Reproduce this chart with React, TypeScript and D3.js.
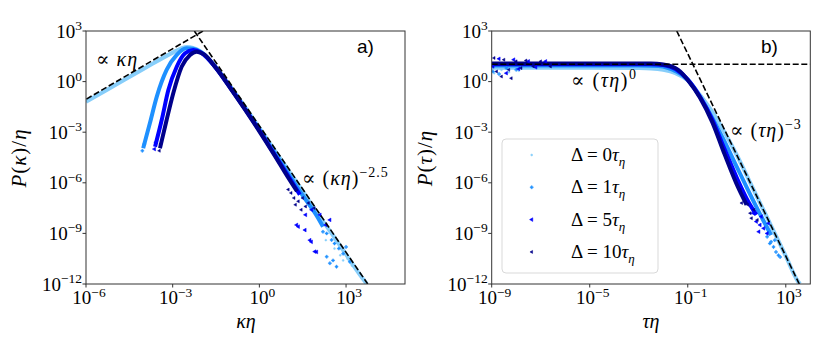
import React from "react";
import * as d3 from "d3";

// colours of the four time lags
const lagNames = ["0", "1", "5", "10"];
const lagColors = ["#87cefa", "#1e90ff", "#0000ff", "#00008b"];

// panel a) curvature pdf, [log10(kappa*eta), log10(P/eta)]
const kappaD0 = [[-6, -1.2], [-5, -0.22], [-4, 0.76], [-3, 1.72], [-2.7, 1.97], [-2.5, 2.05], [-2.3, 2.0], [-2, 1.75], [-1.5, 0.85], [-1, -0.3], [-0.5, -1.5], [0, -2.75], [0.5, -4.0], [1, -5.25], [1.5, -6.5], [2, -7.8], [2.5, -9.0], [3, -10.25], [3.5, -11.5], [3.72, -12]];
const kappaD1 = [[-4.02, -3.95], [-3.79, -2.47], [-3.55, -0.89], [-3.21, 0.69], [-2.86, 1.58], [-2.52, 1.97], [-2.3, 1.95], [-2, 1.72], [-1.5, 0.82], [-1, -0.35], [-0.5, -1.58], [0, -2.85], [0.5, -4.15], [1, -5.45], [1.5, -6.75], [2, -8.0], [2.2, -8.6]];
const kappaD5 = [[-3.61, -3.86], [-3.38, -2.28], [-3.15, -0.5], [-2.86, 0.88], [-2.57, 1.68], [-2.29, 1.87], [-2, 1.7], [-1.5, 0.8], [-1, -0.38], [-0.5, -1.62], [0, -2.9], [0.5, -4.25], [1, -5.6], [1.4, -6.7]];
const kappaD10 = [[-3.44, -3.95], [-3.21, -2.28], [-2.98, -0.69], [-2.69, 0.88], [-2.4, 1.58], [-2.17, 1.77], [-1.9, 1.6], [-1.5, 0.8], [-1, -0.4], [-0.5, -1.65], [0, -2.95], [0.5, -4.3], [1, -5.7], [1.3, -6.5]];

const kappaScatterD0 = [[2.3, -9.4], [2.6, -9.9], [2.8, -10.3], [3.05, -10.5], [3.2, -10.9], [3.35, -11.1], [3.5, -11.4], [3.6, -11.7], [3.45, -11.3], [2.9, -10.6]];
const kappaScatterD1 = [[-4.05, -4.1], [-3.98, -3.7], [2.33, -10.38], [2.44, -10.77], [2.67, -10.97], [3.13, -10.68], [2.5, -9.39], [2.33, -9.0], [2.6, -9.6], [2.75, -9.9], [2.9, -10.2], [2.55, -10.6], [3.0, -9.8], [2.2, -8.9]];
const kappaScatterD5 = [[-3.63, -4.0], [-3.58, -3.6], [1.29, -8.5], [1.35, -8.6], [1.58, -8.8], [1.75, -9.4], [1.8, -9.5], [1.92, -10.08], [1.98, -10.1], [2.44, -8.2], [1.81, -7.6], [2.1, -7.9], [1.6, -7.9], [2.3, -8.5]];
const kappaScatterD10 = [[-3.46, -4.1], [-3.42, -3.7], [1.1, -6.6], [1.2, -6.9], [1.35, -7.1], [1.5, -6.9], [1.6, -7.4], [1.45, -7.6], [1.7, -7.2], [1.25, -7.3], [1.9, -7.5], [1.0, -6.4]];

const kappaGuideLow = [[-6.5, -1.55], [-1.95, 3]];
const kappaGuideHigh = [[-2.25, 3], [3.75, -12]];
const kappaTicksX = [-6, -3, 0, 3];

// panel b) time pdf, [log10(tau*eta), log10(P/eta)]
const tauD0 = [[-9, 0.82], [-7, 0.82], [-5, 0.82], [-3, 0.8], [-2.5, 0.78], [-2, 0.7], [-1.5, 0.5], [-1, 0.08], [-0.5, -0.8], [0, -1.8], [0.5, -3.0], [1, -4.35], [1.5, -5.85], [2, -7.35], [2.5, -8.85], [3, -10.35], [3.5, -11.85], [3.58, -12]];
const tauD1 = [[-9, 0.95], [-5, 0.95], [-3, 0.95], [-2.2, 0.92], [-1.8, 0.8], [-1.5, 0.62], [-1, 0.12], [-0.5, -0.9], [0, -2.15], [0.5, -3.55], [1, -5.05], [1.5, -6.55], [2, -8.0], [2.4, -9.1]];
const tauD5 = [[-9, 1.03], [-5, 1.03], [-2.5, 1.03], [-2, 0.98], [-1.5, 0.75], [-1, 0.12], [-0.5, -0.9], [0, -2.25], [0.5, -4.0], [1, -5.7], [1.5, -7.2], [1.8, -7.9]];
const tauD10 = [[-9, 1.07], [-5, 1.07], [-2.5, 1.07], [-2, 1.02], [-1.5, 0.8], [-1.3, 0.59], [-1, 0.1], [-0.5, -0.95], [0, -2.4], [0.5, -4.3], [1, -6.1], [1.4, -7.3]];

const tauScatterD0 = [[-8.9, 0.5], [-8.6, 0.7], [-8.3, 0.55], [-7.9, 0.65], [3.0, -10.4], [3.2, -11.0], [3.4, -11.6]];
const tauScatterD1 = [[-8.95, 0.6], [-8.7, 0.45], [-8.4, 0.8], [-8.0, 0.7], [2.24, -9.2], [2.4, -9.5], [2.5, -9.8], [2.6, -10.1], [2.7, -10.3], [2.77, -10.4], [2.55, -9.4], [2.35, -9.6]];
const tauScatterD5 = [[-8.95, 0.9], [-8.7, 1.35], [-8.4, 0.5], [-8.1, 1.3], [-7.9, 0.75], [-7.5, 1.2], [-7.2, 0.85], [-6.8, 1.2], [1.67, -7.8], [1.8, -8.3], [1.95, -8.5], [2.1, -8.7], [2.24, -9.0], [2.0, -8.0], [1.9, -8.9], [2.3, -8.4]];
const tauScatterD10 = [[-8.9, 1.4], [-8.8, 0.6], [-8.6, 0.3], [-8.5, 1.3], [-8.3, 0.7], [-8.2, 0.2], [-8.0, 1.2], [-7.8, 0.8], [-7.6, 1.25], [-7.3, 0.9], [-7.0, 1.2], [-6.6, 0.9], [1.14, -6.4], [1.3, -7.0], [1.45, -7.3], [1.55, -7.8], [1.7, -7.6], [1.84, -8.2], [1.6, -8.1], [1.2, -7.2]];

const tauGuideFlat = [[-9, 1.03], [4, 1.03]];
const tauGuideSteep = [[-1.45, 3], [3.6, -12.15]];
const tauTicksX = [-9, -5, -1, 3];

const yTicks = [3, 0, -3, -6, -9, -12];

const serif = "'Liberation Serif', 'DejaVu Serif', serif";
const top = 31, bottom = 284;

const Pow = ({ x, y, e, anchor }: any) => (
  <text x={x} y={y} textAnchor={anchor} fontFamily={serif} fontSize={19} fill="#000">
    10<tspan dy={-7.5} fontSize={13.5}>{e < 0 ? "\u2212" + -e : e}</tspan>
  </text>
);

const markerPath = (i: number) => {
  if (i === 0) return d3.symbol(d3.symbolCircle, 3)();
  if (i === 1) return d3.symbol(d3.symbolCross, 5)();
  return d3.symbol(d3.symbolTriangle, i === 2 ? 6 : 4)();
};

const Panel = ({ id, left, right, xDomain, xTicks, lines, scatters, guides }: any) => {
  const xs = d3.scaleLog().domain(xDomain).range([left, right]);
  const ys = d3.scaleLog().domain([1e-12, 1e3]).range([bottom, top]);
  const line = d3.line<number[]>()
    .x(d => xs(10 ** d[0]))
    .y(d => ys(10 ** d[1]))
    .curve(d3.curveMonotoneX);
  const guide = d3.line<number[]>().x(d => xs(10 ** d[0])).y(d => ys(10 ** d[1]));
  return (
    <g>
      <defs>
        <clipPath id={"clip" + id}>
          <rect x={left} y={top} width={right - left} height={bottom - top} />
        </clipPath>
      </defs>
      <g clipPath={`url(#clip${id})`}>
        {lines.map((s: number[][], i: number) => (
          <path key={"l" + i} d={line(s) || ""} fill="none" stroke={lagColors[i]} strokeWidth={4} />
        ))}
        {scatters.map((s: number[][], i: number) =>
          s.map((p, j) => (
            <path key={"s" + i + "-" + j} d={markerPath(i) || ""} fill={lagColors[i]} stroke={lagColors[i]} strokeWidth={0.5}
              transform={`translate(${xs(10 ** p[0])},${ys(10 ** p[1])})${i >= 2 ? " rotate(-90)" : ""}`} />
          ))
        )}
        {guides.map((g: number[][], i: number) => (
          <path key={"g" + i} d={guide(g) || ""} fill="none" stroke="#000" strokeWidth={1.6} strokeDasharray="6 2.6" />
        ))}
      </g>
      <rect x={left} y={top} width={right - left} height={bottom - top} fill="none" stroke="#333" strokeWidth={1} />
      {yTicks.map(t => (
        <g key={"y" + t}>
          <line x1={left - 3.5} x2={left} y1={ys(10 ** t)} y2={ys(10 ** t)} stroke="#333" />
          <Pow x={left - 4} y={ys(10 ** t) + 6.5} e={t} anchor="end" />
        </g>
      ))}
      {xTicks.map((t: number) => (
        <g key={"x" + t}>
          <line x1={xs(10 ** t)} x2={xs(10 ** t)} y1={bottom} y2={bottom + 3.5} stroke="#333" />
          <Pow x={xs(10 ** t) + 3} y={bottom + 20} e={t} anchor="middle" />
        </g>
      ))}
    </g>
  );
};

export default function App() {
  return (
    <svg width={830} height={356} style={{ position: "absolute", left: 0, top: 0, background: "#fff" }}>
      <Panel id="a" left={86} right={405} xDomain={[1e-6, 10 ** 5.04]} xTicks={kappaTicksX}
        lines={[kappaD0, kappaD1, kappaD5, kappaD10]}
        scatters={[kappaScatterD0, kappaScatterD1, kappaScatterD5, kappaScatterD10]}
        guides={[kappaGuideLow, kappaGuideHigh]} />
      <Panel id="b" left={491.7} right={810.3} xDomain={[1e-9, 1e4]} xTicks={tauTicksX}
        lines={[tauD0, tauD1, tauD5, tauD10]}
        scatters={[tauScatterD0, tauScatterD1, tauScatterD5, tauScatterD10]}
        guides={[tauGuideFlat, tauGuideSteep]} />

      {/* axis labels */}
      <text transform="translate(26,158) rotate(-90)" textAnchor="middle" fontFamily={serif} fontSize={21} letterSpacing={1}>
        <tspan fontStyle="italic">P</tspan>(<tspan fontStyle="italic">κ</tspan>)/<tspan fontStyle="italic">η</tspan>
      </text>
      <text transform="translate(432,158) rotate(-90)" textAnchor="middle" fontFamily={serif} fontSize={21} letterSpacing={1}>
        <tspan fontStyle="italic">P</tspan>(<tspan fontStyle="italic">τ</tspan>)/<tspan fontStyle="italic">η</tspan>
      </text>
      <text x={246} y={328} textAnchor="middle" fontFamily={serif} fontSize={20} fontStyle="italic">κη</text>
      <text x={651} y={328} textAnchor="middle" fontFamily={serif} fontSize={20} fontStyle="italic">τη</text>

      {/* annotations */}
      <text x={96} y={66} fontFamily={serif} fontSize={20} letterSpacing={1}>∝ <tspan fontStyle="italic">κη</tspan></text>
      <text x={302} y={185} fontFamily={serif} fontSize={20} letterSpacing={1}>
        ∝ (<tspan fontStyle="italic">κη</tspan>)<tspan dy={-8} fontSize={14}>−2.5</tspan>
      </text>
      <text x={571} y={87} fontFamily={serif} fontSize={20} letterSpacing={1.5}>
        ∝ (<tspan fontStyle="italic">τη</tspan>)<tspan dy={-8} fontSize={14}>0</tspan>
      </text>
      <text x={730} y={137} fontFamily={serif} fontSize={20} letterSpacing={1}>
        ∝ (<tspan fontStyle="italic">τη</tspan>)<tspan dy={-8} fontSize={14}>−3</tspan>
      </text>
      <text x={357} y={53} fontFamily="'Liberation Sans', Arial, sans-serif" fontSize={19}>a)</text>
      <text x={761} y={53} fontFamily="'Liberation Sans', Arial, sans-serif" fontSize={19}>b)</text>

      {/* legend */}
      <rect x={502} y={139} width={156} height={134} rx={4} fill="#fff" fillOpacity={0.8} stroke="#d9d9d9" />
      {lagNames.map((n, i) => {
        const yy = 155 + i * 32.3;
        return (
          <g key={n}>
            <path d={markerPath(i) || ""} fill={lagColors[i]} stroke={lagColors[i]} strokeWidth={0.5}
              transform={`translate(531.7,${yy})${i >= 2 ? " rotate(-90)" : ""}`} />
            <text x={571} y={yy + 6} fontFamily={serif} fontSize={19}>
              Δ = {n}<tspan fontStyle="italic">τ</tspan><tspan dy={5} fontSize={13} fontStyle="italic">η</tspan>
            </text>
          </g>
        );
      })}
    </svg>
  );
}
